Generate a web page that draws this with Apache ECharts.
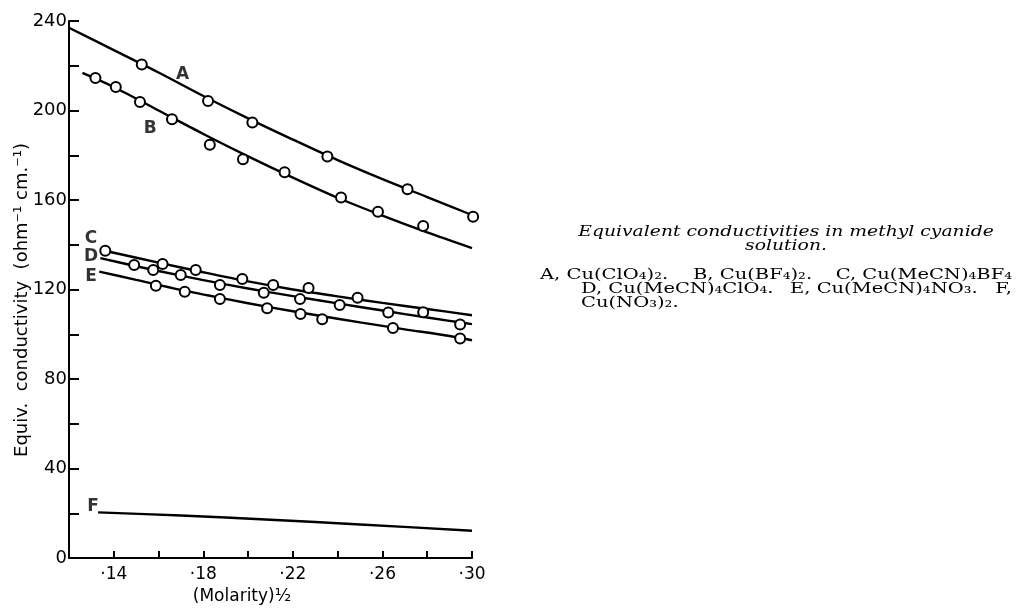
<!DOCTYPE html>
<html><head><meta charset="utf-8">
<script src="https://cdn.jsdelivr.net/npm/echarts@6/dist/echarts.min.js"></script>
<style>html,body{margin:0;padding:0;background:#fff}#c{width:1020px;height:610px}</style>
</head><body><div id="c"></div>
<script>
// ---- data ----
const curveA = [[0.12,237],[0.14,227],[0.16,217],[0.18,206.5],[0.20,196.5],[0.22,187],[0.24,177.8],[0.26,169.3],[0.28,161.3],[0.30,153.3]];
const pointsA = [[0.1525,220.6],[0.1821,204.2],[0.2019,194.6],[0.2354,179.4],[0.2712,164.8],[0.3005,152.5]];
const curveB = [[0.126,216.8],[0.14,210.5],[0.16,200],[0.18,189.5],[0.20,179.5],[0.22,170],[0.24,161],[0.26,153],[0.28,145.5],[0.30,138.5]];
const pointsB = [[0.1318,214.5],[0.1409,210.5],[0.1517,203.8],[0.166,196.1],[0.1829,184.7],[0.1977,178.2],[0.2163,172.4],[0.2415,161.1],[0.258,154.8],[0.2782,148.4]];
const curveC = [[0.136,137.3],[0.16,132.0],[0.18,127.7],[0.20,123.6],[0.22,120.0],[0.24,116.9],[0.26,114.0],[0.28,111.3],[0.30,108.5]];
const pointsC = [[0.1362,137.3],[0.1618,131.4],[0.1766,128.7],[0.1974,124.7],[0.2112,122.0],[0.2270,120.7],[0.2489,116.3],[0.2782,109.8]];
const curveD = [[0.134,134.0],[0.15,130.4],[0.17,126.2],[0.19,122.3],[0.21,118.7],[0.23,115.4],[0.25,112.2],[0.27,109.0],[0.29,106.0],[0.30,104.5]];
const pointsD = [[0.1491,130.9],[0.1576,128.7],[0.1699,126.5],[0.1874,122.0],[0.2070,118.6],[0.2232,115.7],[0.2409,113.1],[0.2626,109.7],[0.2947,104.4]];
const curveE = [[0.1335,128.0],[0.15,124.3],[0.17,119.8],[0.19,115.8],[0.21,112.0],[0.23,108.6],[0.25,105.3],[0.27,102.2],[0.29,99.2],[0.30,97.3]];
const pointsE = [[0.1588,121.7],[0.1717,119.0],[0.1874,115.8],[0.2085,111.6],[0.2234,109.1],[0.2331,106.7],[0.2647,102.8],[0.2947,98.1]];
const curveF = [[0.133,20.4],[0.17,19.0],[0.21,17.1],[0.25,15.0],[0.30,12.2]];
const curveNames = ['A','B','C','D','E','F'];
const curveLabelPos = [[0.1707,215.9],[0.1563,192.0],[0.1298,142.9],[0.1298,134.5],[0.1298,125.6],[0.1307,22.9]];
const xName = '(Molarity)½';
const yName = 'Equiv.  conductivity  (ohm⁻¹ cm.⁻¹)';
const captionTitle = ['Equivalent conductivities in methyl cyanide','solution.'];
const captionLine1 = ['A, Cu(ClO₄)₂.','B, Cu(BF₄)₂.','C, Cu(MeCN)₄BF₄'];
const captionLine2 = ['D, Cu(MeCN)₄ClO₄.','E, Cu(MeCN)₄NO₃.','F,'];
const captionLine3 = ['Cu(NO₃)₂.'];

const chart = echarts.init(document.getElementById('c'), null, {renderer:'canvas'});
const black = '#000';
const sans = 'DejaVu Sans';

function lineSeries(d){ return {type:'line', data:d, smooth:0.3, showSymbol:false, symbol:'none',
  lineStyle:{color:black, width:2.4}, z:2, silent:true}; }
function ptSeries(d){ return {type:'scatter', data:d, symbol:'circle', symbolSize:10, clip:false,
  itemStyle:{color:'#fff', borderColor:black, borderWidth:2, opacity:1}, z:3}; }

function capText(t, x, y, align, sx, font){
  return {type:'text', x:x, y:y, scaleX:sx, style:{text:t, fill:black, font:font, textAlign:align, textVerticalAlign:'middle'}};
}
const capFont = '15px "DejaVu Serif"';
const titleFont = 'italic 15px "DejaVu Serif"';

const option = {
  backgroundColor:'#fff',
  animation:false,
  grid:{left:69, right:548, top:21, bottom:52, containLabel:false},
  xAxis:{type:'value', min:0.12, max:0.30, interval:0.02,
    axisLine:{lineStyle:{color:black, width:2}},
    axisTick:{inside:true, length:7, lineStyle:{color:black, width:2}},
    splitLine:{show:false},
    axisLabel:{margin:8, color:black, fontFamily:sans, fontSize:17,
      formatter:v=>{const k=Math.round(v*100); return (k>=14 && (k-14)%4===0)? '·'+k : '';}}
  },
  yAxis:{type:'value', min:0, max:240, interval:20,
    axisLine:{show:true, lineStyle:{color:black, width:2}},
    axisTick:{show:true, inside:true, length:10, lineStyle:{color:black, width:2}},
    splitLine:{show:false},
    axisLabel:{margin:2, color:black, fontFamily:sans, fontSize:18,
      formatter:v=> (Math.round(v)%40===0 ? String(Math.round(v)) : '')}
  },
  series:[
    lineSeries(curveA), lineSeries(curveB), lineSeries(curveC), lineSeries(curveD), lineSeries(curveE), lineSeries(curveF),
    ptSeries(pointsA), ptSeries(pointsB), ptSeries(pointsC), ptSeries(pointsD), ptSeries(pointsE),
    {type:'scatter', symbolSize:0, silent:true, z:4,
      data: curveNames.map((n,i)=>({name:n, value:curveLabelPos[i]})),
      label:{show:true, position:'inside', formatter:p=>p.name, color:black, fontFamily:sans, fontSize:17, fontWeight:'bold'}}
  ],
  graphic:[
    {type:'text', x:22, y:300, rotation:Math.PI/2, style:{text:yName, fill:black, font:'18px "DejaVu Sans"', textAlign:'center', textVerticalAlign:'middle'}},
    {type:'text', x:242, y:597, style:{text:xName, fill:black, font:'17px "DejaVu Sans"', textAlign:'center', textVerticalAlign:'middle'}},
    capText(captionTitle[0], 786, 232, 'center', 1.25, titleFont),
    capText(captionTitle[1], 786, 246, 'center', 1.25, titleFont),
    capText(captionLine1[0], 540, 275, 'left', 1.3, capFont),
    capText(captionLine1[1], 693, 275, 'left', 1.3, capFont),
    capText(captionLine1[2], 1012, 275, 'right', 1.3, capFont),
    capText(captionLine2[0], 581, 289, 'left', 1.3, capFont),
    capText(captionLine2[1], 790, 289, 'left', 1.3, capFont),
    capText(captionLine2[2], 1012, 289, 'right', 1.3, capFont),
    capText(captionLine3[0], 581, 303, 'left', 1.3, capFont)
  ]
};
chart.setOption(option);
</script></body></html>
